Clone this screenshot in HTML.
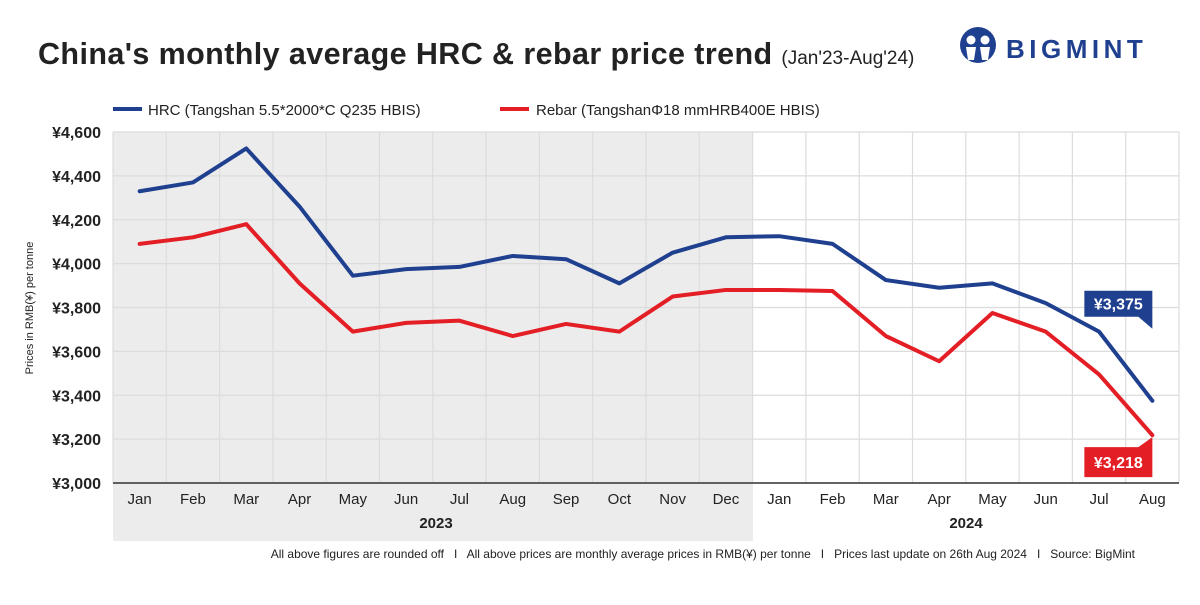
<!DOCTYPE html>
<html><head><meta charset="utf-8"><style>
body{margin:0;background:#fff;font-family:"Liberation Sans",sans-serif}
svg text{font-family:"Liberation Sans",sans-serif}
</style></head><body>
<svg width="1200" height="600" viewBox="0 0 1200 600" xmlns="http://www.w3.org/2000/svg">
<text x="38" y="64" font-size="30.5" font-weight="bold" fill="#222" letter-spacing="0.4">China's monthly average HRC &amp; rebar price trend <tspan font-size="19" font-weight="normal" letter-spacing="0">(Jan'23-Aug'24)</tspan></text>
<g>
<circle cx="978" cy="45" r="18" fill="#1f3f8f"/>
<circle cx="971" cy="40" r="4.5" fill="#fff"/><circle cx="985" cy="40" r="4.5" fill="#fff"/>
<path d="M966 47 L976 47 L974 60 L968 60Z M980 47 L990 47 L988 60 L982 60Z" fill="#fff"/>
<text x="1006" y="58" font-size="26" font-weight="bold" fill="#1f3f8f" letter-spacing="4.5">BIGMINT</text>
</g>
<g>
<line x1="113" y1="109" x2="142" y2="109" stroke="#1f3f8f" stroke-width="4"/>
<text x="148" y="115" font-size="15" fill="#222">HRC (Tangshan 5.5*2000*C Q235 HBIS)</text>
<line x1="500" y1="109" x2="529" y2="109" stroke="#e31e25" stroke-width="4"/>
<text x="536" y="115" font-size="15" fill="#222">Rebar (TangshanΦ18 mmHRB400E HBIS)</text>
</g>
<rect x="113" y="132" width="640" height="409" fill="#ececec"/>
<g id="grid"></g>
<g id="marks"></g>
<text transform="translate(33,308) rotate(-90)" text-anchor="middle" font-size="11" fill="#222">Prices in RMB(¥) per tonne</text>
<text x="436" y="528" text-anchor="middle" font-size="15" font-weight="bold" fill="#222">2023</text>
<text x="966" y="528" text-anchor="middle" font-size="15" font-weight="bold" fill="#222">2024</text>
<text x="1135" y="558" text-anchor="end" font-size="12" fill="#222" xml:space="preserve" style="white-space:pre">All above figures are rounded off   I   All above prices are monthly average prices in RMB(¥) per tonne   I   Prices last update on 26th Aug 2024   I   Source: BigMint</text>
</svg>
<script>
const months=["Jan","Feb","Mar","Apr","May","Jun","Jul","Aug","Sep","Oct","Nov","Dec","Jan","Feb","Mar","Apr","May","Jun","Jul","Aug"];
const hrc=[4330,4370,4525,4260,3945,3975,3985,4035,4020,3910,4050,4120,4125,4090,3925,3890,3910,3820,3690,3375];
const rebar=[4090,4120,4180,3910,3690,3730,3740,3670,3725,3690,3850,3880,3880,3875,3670,3555,3775,3690,3495,3218];
const yTicks=[3000,3200,3400,3600,3800,4000,4200,4400,4600];
const NS="http://www.w3.org/2000/svg";
const L=113,R=1179,T=132,B=483,ymin=3000,ymax=4600;
const cw=(R-L)/months.length;
const x=i=>L+cw*(i+0.5);
const y=v=>B-(v-ymin)/(ymax-ymin)*(B-T);
function mk(tag,attrs,parent){const e=document.createElementNS(NS,tag);for(const k in attrs)e.setAttribute(k,attrs[k]);parent.appendChild(e);return e;}
const grid=document.getElementById('grid'),marks=document.getElementById('marks');
yTicks.forEach(v=>{
 const l=mk('line',{x1:L,x2:R,y1:y(v),y2:y(v),stroke:'#dcdcdc','stroke-width':1.2},grid);
 
 
 const t=mk('text',{x:101,y:y(v)+6,'text-anchor':'end','font-size':16,'font-weight':'bold',fill:'#222'},grid);
 t.textContent='¥'+v.toLocaleString('en-US');
 
 
});
for(let i=0;i<=months.length;i++){
 const l=mk('line',{x1:L+cw*i,x2:L+cw*i,y1:T,y2:B,stroke:'#dcdcdc','stroke-width':1.2},grid);
 
 
}
months.forEach((m,i)=>{
 const t=mk('text',{x:x(i),y:504,'text-anchor':'middle','font-size':15,fill:'#222'},grid);
 t.textContent=m;
 
 
});
const ax=mk('line',{x1:L,x2:R,y1:B,y2:B,stroke:'#333','stroke-width':1.5},grid);


function series(data,color,name){
 const p=mk('polyline',{points:data.map((v,i)=>x(i)+','+y(v)).join(' '),fill:'none',stroke:color,'stroke-width':4,'stroke-linejoin':'round','stroke-linecap':'round'},marks);
 
 
}
series(hrc,'#1f3f8f','hrc-line');
series(rebar,'#e31e25','rebar-line');
const n=months.length-1,px=x(n);
const hy=y(hrc[n]);
const hb=mk('path',{d:`M${px-68} ${hy-110} H${px} V${hy-72} L${px-14} ${hy-84} H${px-68} Z`,fill:'#1f3f8f'},marks);


const ht=mk('text',{x:px-34,y:hy-91,'text-anchor':'middle','font-size':16,'font-weight':'bold',fill:'#fff'},marks);
ht.textContent='¥'+hrc[n].toLocaleString('en-US');


const ry=y(rebar[n]);
const rb=mk('path',{d:`M${px-68} ${ry+12} H${px-14} L${px} ${ry+2} V${ry+42} H${px-68} Z`,fill:'#e31e25'},marks);


const rt=mk('text',{x:px-34,y:ry+33,'text-anchor':'middle','font-size':16,'font-weight':'bold',fill:'#fff'},marks);
rt.textContent='¥'+rebar[n].toLocaleString('en-US');


</script>
</body></html>
